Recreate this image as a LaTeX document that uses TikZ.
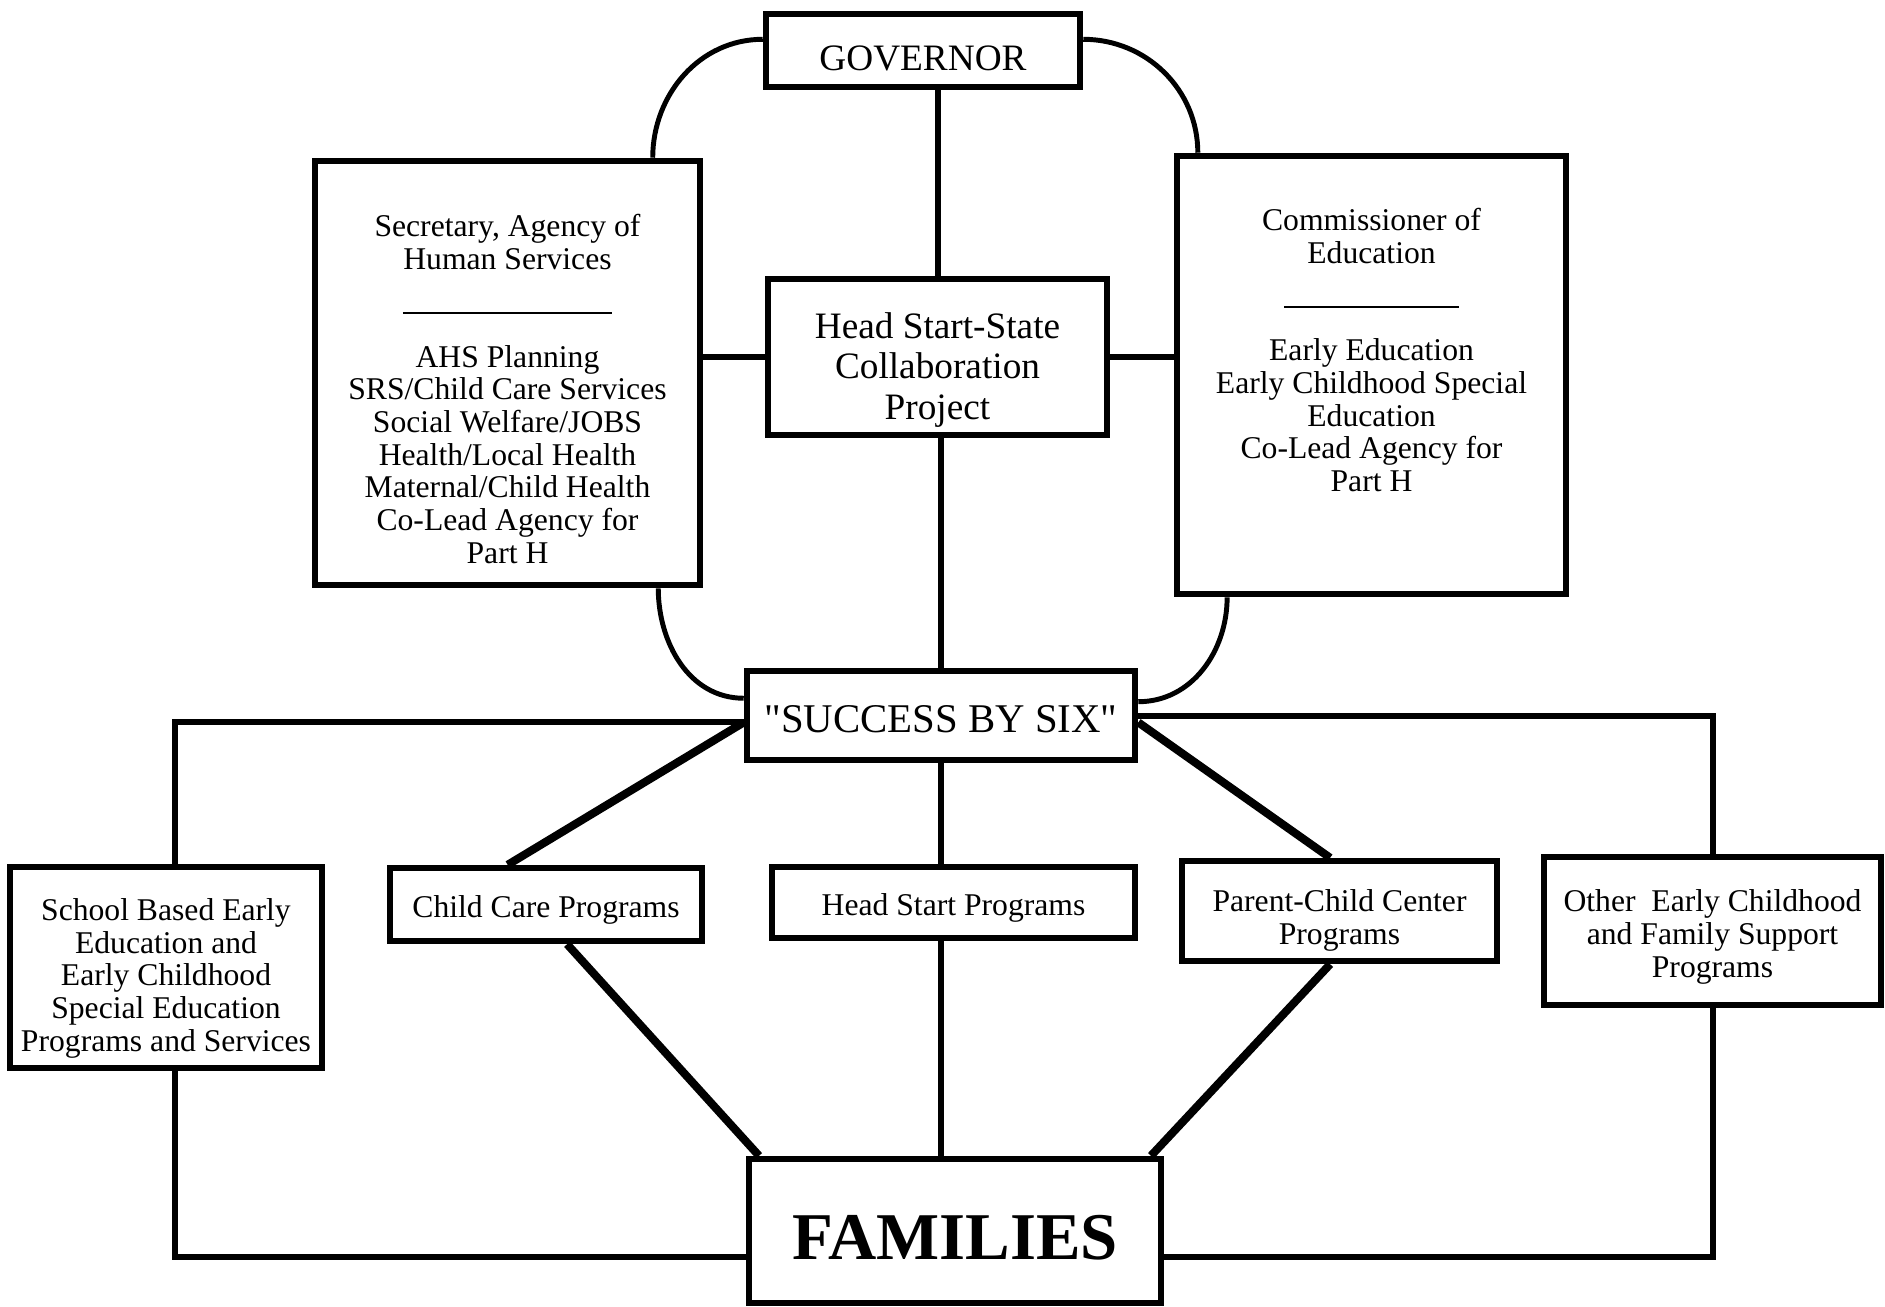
\documentclass[tikz,border=0pt]{standalone}
\usepackage{fontspec}
\setmainfont{Liberation Serif}[Ligatures=TeXOff]
\usepackage{tikz}

\begin{document}
\begin{tikzpicture}[x=0.01cm, y=-0.01cm]
        % Styles
        \tikzset{
            unit/.style={rectangle, draw, line width=1.8pt, align=center, inner sep=0pt, font=\fontsize{9}{9.3}\selectfont, execute at begin node={\rule{0pt}{#1}}},
            unit/.default=1.05em,
            unittext/.style={align=center, inner sep=0pt, font=\fontsize{9}{9.3}\selectfont},
            link/.style={line width=1.7pt},
            arc/.style={line width=1.4pt},
            spoke/.style={line width=2.3pt}
        }
        \useasboundingbox (0,0) rectangle (1885,1306);

        % State level
        \node [unit=1.1em, minimum width=3.14cm, minimum height=0.73cm, font=\fontsize{10.6}{12}\selectfont] (gov) at (923,50.5) {GOVERNOR};
        \node [unit=0pt, minimum width=3.85cm, minimum height=4.24cm] (sec) at (507.5,373) {};
        \node [unittext] (sectext) at (507.5,389) {Secretary, Agency of\\Human Services\\[3.4pt]\rule{2.09cm}{0.5pt}\\[5.8pt]AHS Planning\\SRS/Child Care Services\\Social Welfare/JOBS\\Health/Local Health\\Maternal/Child Health\\Co-Lead Agency for\\Part H};
        \node [unit=37.9pt, minimum width=3.39cm, minimum height=1.56cm, font=\fontsize{10.6}{11.6}\selectfont] (hss) at (937.5,357) {Head Start-State\\Collaboration\\Project};
        \node [unit=0pt, minimum width=3.89cm, minimum height=4.38cm] (com) at (1371.5,375) {};
        \node [unittext] (comtext) at (1371.5,350) {Commissioner of\\Education\\[3.4pt]\rule{1.74cm}{0.5pt}\\[5.8pt]Early Education\\Early Childhood Special\\Education\\Co-Lead Agency for\\Part H};
        \node [unit=0.85em, minimum width=3.88cm, minimum height=0.89cm, font=\fontsize{11.6}{13}\selectfont] (sbs) at (941,715.5) {"SUCCESS BY SIX"};

        % Programs
        \node [unit=49.5pt, minimum width=3.12cm, minimum height=2.01cm] (sch) at (166,967.5) {School Based Early\\Education and\\Early Childhood\\Special Education\\Programs and Services};
        \node [unit, minimum width=3.12cm, minimum height=0.73cm] (ccp) at (546,904.5) {Child Care Programs};
        \node [unit, minimum width=3.63cm, minimum height=0.71cm] (hsp) at (953.5,902.5) {Head Start Programs};
        \node [unit=20.9pt, minimum width=3.15cm, minimum height=1.00cm] (pcc) at (1339.5,911) {Parent-Child Center\\Programs};
        \node [unit=28.2pt, minimum width=3.37cm, minimum height=1.48cm] (oth) at (1712.5,931) {Other~~Early Childhood\\and Family Support\\Programs};
        \node [unit=0.85em, minimum width=4.12cm, minimum height=1.44cm, font=\fontsize{19}{22}\selectfont\bfseries] (fam) at (955,1231) {FAMILIES};

        % Upper lines
        \draw [link] (gov.south -| hss.north) -- (hss.north);
        \draw [link] (hss.south -| sbs.north) -- (sbs.north);
        \draw [link] (sec.east |- hss.west) -- (hss.west);
        \draw [link] (hss.east) -- (hss.east -| com.west);
        \draw [arc] (gov.176) to[out=180, in=90] (sec.56);
        \draw [arc] (gov.4) to[out=0, in=90] (com.128);
        \draw [arc] (sec.-55) to[out=-90, in=180] (sbs.175);
        \draw [arc] (com.-123) to[out=-90, in=0] (sbs.4);

        % Lower lines
        \draw [link] (sbs.182) -| (sch.85);
        \draw [link] (sbs.east) -| (oth.north);
        \draw [link] (sch.-85) |- (fam.187);
        \draw [link] (oth.south) |- (fam.-7);
        \draw [spoke] (sbs.182) -- (ccp.134);
        \draw [spoke] (sbs.-2) -- (pcc.100);
        \draw [link] (sbs.south) -- (sbs.south |- hsp.north);
        \draw [spoke] (ccp.-62) -- (fam.159);
        \draw [link] (sbs.south |- hsp.south) -- (sbs.south |- fam.north);
        \draw [spoke] (pcc.-100) -- (fam.21);
    \end{tikzpicture}
\end{document}
